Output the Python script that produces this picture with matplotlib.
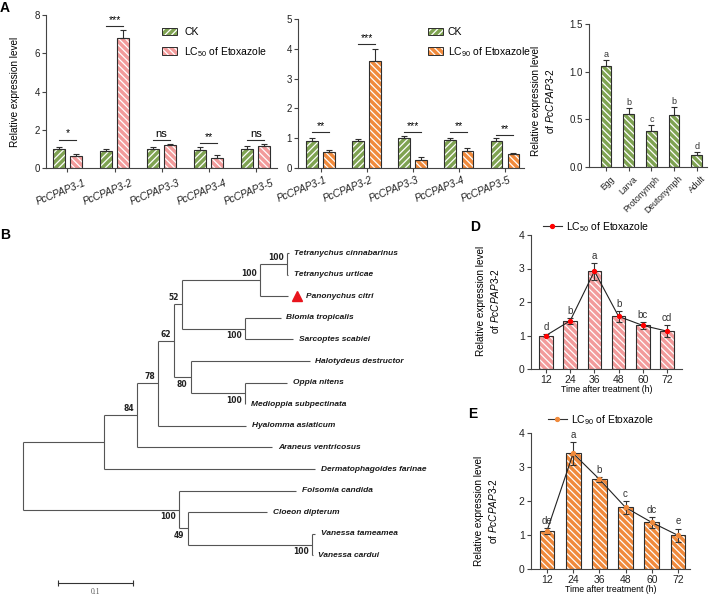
import matplotlib
matplotlib.use('Agg')
import matplotlib.pyplot as plt
import numpy as np
from matplotlib.patches import Patch
from matplotlib.lines import Line2D
from matplotlib.legend_handler import HandlerTuple
from matplotlib.transforms import ScaledTranslation

plt.rcParams['font.family'] = ['Liberation Sans', 'DejaVu Sans']
plt.rcParams['mathtext.fontset'] = 'custom'
plt.rcParams['mathtext.rm'] = 'Liberation Sans'
plt.rcParams['mathtext.it'] = 'Liberation Sans:italic'
plt.rcParams['hatch.linewidth'] = 0.9

# ---------------- data ----------------
genes = ['PcCPAP3-1', 'PcCPAP3-2', 'PcCPAP3-3', 'PcCPAP3-4', 'PcCPAP3-5']
a1_ck = [0.98, 0.89, 1.00, 0.96, 0.98]
a1_ck_err = [0.12, 0.12, 0.08, 0.14, 0.16]
a1_lc50 = [0.61, 6.78, 1.19, 0.54, 1.17]
a1_lc50_err = [0.14, 0.44, 0.09, 0.12, 0.09]
a1_sig = ['*', '***', 'ns', '**', 'ns']
a1_sig_y = [1.49, 7.40, 1.49, 1.31, 1.45]

a2_ck = [0.92, 0.91, 1.02, 0.94, 0.90]
a2_ck_err = [0.09, 0.07, 0.06, 0.08, 0.12]
a2_lc90 = [0.54, 3.58, 0.27, 0.57, 0.47]
a2_lc90_err = [0.08, 0.41, 0.09, 0.10, 0.04]
a2_sig = ['**', '***', '***', '**', '**']
a2_sig_y = [1.20, 4.16, 1.22, 1.22, 1.12]

stages = ['Egg', 'Larva', 'Protonymph', 'Deutonymph', 'Adult']
stage_expr = [1.06, 0.56, 0.38, 0.55, 0.126]
stage_err = [0.06, 0.06, 0.06, 0.08, 0.03]
stage_letters = ['a', 'b', 'c', 'b', 'd']

times = ['12', '24', '36', '48', '60', '72']
d_expr = [1.00, 1.44, 2.92, 1.57, 1.30, 1.13]
d_err = [0.04, 0.09, 0.25, 0.17, 0.10, 0.17]
d_letters = ['d', 'b', 'a', 'b', 'bc', 'cd']
e_expr = [1.12, 3.40, 2.64, 1.81, 1.37, 0.99]
e_err = [0.08, 0.34, 0.07, 0.20, 0.15, 0.20]
e_letters = ['de', 'a', 'b', 'c', 'dc', 'e']

# phylogenetic tree: (name, branch length, bootstrap, children)
tree = ('', 0.0, None, [
    ('', 0.107, None, [
        ('', 0.045, 84, [
            ('', 0.028, 78, [
                ('', 0.021, 62, [
                    ('', 0.011, 52, [
                        ('', 0.103, 100, [
                            ('', 0.037, 100, [
                                ('Tetranychus cinnabarinus', 0.002, None, []),
                                ('Tetranychus urticae', 0.001, None, [])]),
                            ('Panonychus citri', 0.038, None, [])]),
                        ('', 0.084, 100, [
                            ('Blomia tropicalis', 0.047, None, []),
                            ('Sarcoptes scabiei', 0.064, None, [])])]),
                    ('', 0.022, 80, [
                        ('Halotydeus destructor', 0.159, None, []),
                        ('', 0.072, 100, [
                            ('Oppia nitens', 0.057, None, []),
                            ('Medioppia subpectinata', 0.001, None, [])])])]),
                ('Hyalomma asiaticum', 0.117, None, [])]),
            ('Araneus ventricosus', 0.180, None, [])]),
        ('Dermatophagoides farinae', 0.282, None, [])]),
    ('', 0.208, 100, [
        ('Folsomia candida', 0.156, None, []),
        ('', 0.011, 49, [
            ('Cloeon dipterum', 0.106, None, []),
            ('', 0.166, 100, [
                ('Vanessa tameamea', 0.004, None, []),
                ('Vanessa cardui', 0.001, None, [])])])])])
highlight_taxon = 'Panonychus citri'
scale_len = 0.1

# ---------------- styles ----------------
GREEN = '#7fa352'
PINK = '#f29b9b'
ORANGE = '#f08a3c'
EDGE = '#2e2e2e'
AX = '#444444'

W, H = 713, 596
fig = plt.figure(figsize=(W / 100, H / 100), dpi=100)


def px_ax(l, t, r, b):
    return fig.add_axes([l / W, 1 - b / H, (r - l) / W, (b - t) / H])


def fpx(x, y):
    return (x / W, 1 - y / H)


def style_ax(ax, fs=7):
    for s in ['top', 'right']:
        ax.spines[s].set_visible(False)
    for s in ['left', 'bottom']:
        ax.spines[s].set_color(AX)
        ax.spines[s].set_linewidth(0.8)
    ax.tick_params(direction='out', length=3, width=0.8, color=AX,
                   labelsize=fs, pad=1.5, labelcolor='#222222')


def hbar(ax, x, h, w, color, hatch):
    ax.bar(x, h, w, color=color, edgecolor='white', hatch=hatch,
           linewidth=0, zorder=2)
    ax.bar(x, h, w, fill=False, edgecolor=EDGE, linewidth=0.8, zorder=3)


def legend_patch(color, hatch):
    return (Patch(facecolor=color, edgecolor='white', hatch=hatch, linewidth=0),
            Patch(fill=False, edgecolor=EDGE, linewidth=0.7))


def shift_labels(ax, dx_px, dy_px=0):
    for lab in ax.get_xticklabels():
        lab.set_transform(lab.get_transform() +
                          ScaledTranslation(dx_px / 100, dy_px / 100, fig.dpi_scale_trans))


# ---------------- Panel A1 ----------------
ax1 = px_ax(46, 15, 277, 168)
style_ax(ax1)
x = np.arange(len(genes))
off, bw = 0.18, 0.25
hbar(ax1, x - off, a1_ck, bw, GREEN, '/////')
hbar(ax1, x + off, a1_lc50, bw, PINK, '\\\\\\\\\\')
ax1.errorbar(x - off, a1_ck, yerr=[np.zeros(5), a1_ck_err], fmt='none',
             ecolor=EDGE, elinewidth=0.8, capsize=2.5, capthick=0.8, zorder=4)
ax1.errorbar(x + off, a1_lc50, yerr=[np.zeros(5), a1_lc50_err], fmt='none',
             ecolor=EDGE, elinewidth=0.8, capsize=2.5, capthick=0.8, zorder=4)
for i in range(len(genes)):
    ax1.plot([x[i] - off, x[i] + off], [a1_sig_y[i]] * 2, color=EDGE, lw=0.8)
    ax1.text(x[i], a1_sig_y[i] + 0.05, a1_sig[i], ha='center', va='bottom',
             fontsize=8 if a1_sig[i] == 'ns' else 7.5)
ax1.set_xlim(-0.456, 4.45)
ax1.set_ylim(0, 8)
ax1.set_yticks([0, 2, 4, 6, 8])
ax1.set_xticks(x)
ax1.set_xticklabels(genes, rotation=22, ha='right', va='top',
                    rotation_mode='anchor', style='italic', fontsize=7.2)
shift_labels(ax1, 16, -4)
ax1.set_ylabel('Relative expression level', fontsize=7.2)
ax1.yaxis.set_label_coords(-0.113, 0.5)
ax1.legend(handles=[legend_patch(GREEN, '/////'), legend_patch(PINK, '\\\\\\\\\\')],
           labels=['CK', 'LC$_{50}$ of Etoxazole'],
           handler_map={tuple: HandlerTuple(ndivide=1)},
           loc='upper left', bbox_to_anchor=fpx(162, 27), bbox_transform=fig.transFigure,
           frameon=False, fontsize=7.5, handlelength=1.45, handleheight=0.75,
           handletextpad=0.7, labelspacing=0.75, borderpad=0, borderaxespad=0)

# ---------------- Panel A2 ----------------
ax2 = px_ax(298, 19, 524, 168)
style_ax(ax2)
off2, bw2 = 0.185, 0.245
hbar(ax2, x - off2, a2_ck, bw2, GREEN, '/////')
hbar(ax2, x + off2, a2_lc90, bw2, ORANGE, '\\\\\\\\\\')
ax2.errorbar(x - off2, a2_ck, yerr=[np.zeros(5), a2_ck_err], fmt='none',
             ecolor=EDGE, elinewidth=0.8, capsize=2.5, capthick=0.8, zorder=4)
ax2.errorbar(x + off2, a2_lc90, yerr=[np.zeros(5), a2_lc90_err], fmt='none',
             ecolor=EDGE, elinewidth=0.8, capsize=2.5, capthick=0.8, zorder=4)
for i in range(len(genes)):
    ax2.plot([x[i] - off2, x[i] + off2], [a2_sig_y[i]] * 2, color=EDGE, lw=0.8)
    ax2.text(x[i], a2_sig_y[i] + 0.03, a2_sig[i], ha='center', va='bottom', fontsize=7.5)
ax2.set_xlim(-0.49, 4.42)
ax2.set_ylim(0, 5)
ax2.set_yticks([0, 1, 2, 3, 4, 5])
ax2.set_xticks(x)
ax2.set_xticklabels(genes, rotation=22, ha='right', va='top',
                    rotation_mode='anchor', style='italic', fontsize=7.2)
shift_labels(ax2, 4, -1)
ax2.legend(handles=[legend_patch(GREEN, '/////'), legend_patch(ORANGE, '\\\\\\\\\\')],
           labels=['CK', 'LC$_{90}$ of Etoxazole'],
           handler_map={tuple: HandlerTuple(ndivide=1)},
           loc='upper left', bbox_to_anchor=fpx(428, 27), bbox_transform=fig.transFigure,
           frameon=False, fontsize=7.5, handlelength=1.45, handleheight=0.75,
           handletextpad=0.45, labelspacing=0.75, borderpad=0, borderaxespad=0)

# ---------------- Panel A3 ----------------
ax3 = px_ax(589, 24, 707, 167)
style_ax(ax3)
xs = np.arange(len(stages))
hbar(ax3, xs, stage_expr, 0.47, GREEN, '\\\\\\\\\\')
ax3.errorbar(xs, stage_expr, yerr=[np.zeros(5), stage_err], fmt='none',
             ecolor=EDGE, elinewidth=0.8, capsize=2.5, capthick=0.8, zorder=4)
for i in range(len(stages)):
    ax3.annotate(stage_letters[i], (xs[i], stage_expr[i] + stage_err[i]),
                 xytext=(0, 1), textcoords='offset points',
                 ha='center', va='bottom', fontsize=6.5, color='#333333')
ax3.set_xlim(-0.75, 4.45)
ax3.set_ylim(0, 1.5)
ax3.set_yticks([0, 0.5, 1.0, 1.5])
ax3.set_yticklabels(['0.0', '0.5', '1.0', '1.5'])
ax3.set_xticks(xs)
ax3.set_xticklabels(stages, rotation=45, ha='right', va='top',
                    rotation_mode='anchor', fontsize=6.2)
shift_labels(ax3, 4, -1)
ax3.set_ylabel('Relative expression level\nof $\\mathit{PcCPAP3}$-2', fontsize=7.2,
               linespacing=1.3)
ax3.yaxis.set_label_coords(-0.28, 0.46)


# ---------------- Panels D / E ----------------
def time_panel(ax, vals, errs, letters, color, xlim, lab, leg_xy, lab_coords, xlab_y):
    style_ax(ax, fs=7.5)
    xt = np.arange(len(times))
    hbar(ax, xt, vals, 0.56, color, '\\\\\\\\\\')
    ax.plot(xt, vals, color='#222222', lw=0.8, zorder=5)
    ax.errorbar(xt, vals, yerr=errs, fmt='none', ecolor='#333333',
                elinewidth=0.8, capsize=2, capthick=0.8, zorder=6)
    mk = 'red' if color == PINK else ORANGE
    ax.plot(xt, vals, 'o', color=mk, ms=2.8, zorder=7)
    for i in range(len(times)):
        ax.annotate(letters[i], (xt[i], vals[i] + errs[i]), xytext=(0, 1.5),
                    textcoords='offset points', ha='center', va='bottom',
                    fontsize=7, color='#333333')
    ax.set_xlim(*xlim)
    ax.set_ylim(0, 4)
    ax.set_yticks([0, 1, 2, 3, 4])
    ax.set_xticks(xt)
    ax.set_xticklabels(times)
    ax.set_xlabel('Time after treatment (h)', fontsize=6.3)
    ax.xaxis.set_label_coords(0.5, xlab_y)
    ax.set_ylabel('Relative expression level\nof $\\mathit{PcCPAP3}$-2', fontsize=7.2,
                  linespacing=1.3)
    ax.yaxis.set_label_coords(*lab_coords)
    h = Line2D([], [], color='#333333', lw=0.8, marker='o', ms=2.8,
               mfc=mk, mec=mk)
    ax.legend(handles=[h], labels=[lab], loc='center left',
              bbox_to_anchor=fpx(*leg_xy), bbox_transform=fig.transFigure,
              frameon=False, fontsize=7.5, handlelength=1.8, handletextpad=0.4,
              borderpad=0, borderaxespad=0)


axD = px_ax(531, 235, 682, 369)
time_panel(axD, d_expr, d_err, d_letters, PINK, (-0.62, 5.62),
           'LC$_{50}$ of Etoxazole', (543, 227), (-0.2, 0.51), -0.12)
axE = px_ax(531, 433, 690, 569)
time_panel(axE, e_expr, e_err, e_letters, ORANGE, (-0.61, 5.46),
           'LC$_{90}$ of Etoxazole', (548, 420), (-0.2, 0.43), -0.115)

# ---------------- Panel B (tree) ----------------
axT = px_ax(0, 240, 480, 596)
axT.axis('off')
axT.set_xlim(-23.3 / 750, (480 - 23.3) / 750)
y0, dy = 253.0, 21.6
axT.set_ylim((596 - y0) / dy, (240 - y0) / dy)

tips = []


def layout(node, x0):
    name, bl, sup, ch = node
    xn = x0 + bl
    if not ch:
        yn = float(len(tips))
        tips.append(name)
        return {'name': name, 'x': xn, 'y': yn, 'sup': sup, 'ch': []}
    kids = [layout(c, xn) for c in ch]
    yn = (kids[0]['y'] + kids[-1]['y']) / 2
    return {'name': name, 'x': xn, 'y': yn, 'sup': sup, 'ch': kids}


root = layout(tree, 0.0)
LC = '#555555'


def draw(n, is_first=True):
    if n['ch']:
        axT.plot([n['x'], n['x']], [n['ch'][0]['y'], n['ch'][-1]['y']],
                 color=LC, lw=0.8, solid_capstyle='butt')
        for k, c in enumerate(n['ch']):
            axT.plot([n['x'], c['x']], [c['y'], c['y']], color=LC, lw=0.8,
                     solid_capstyle='butt')
            draw(c, k == 0)
        if n['sup'] is not None:
            dyp = 4.6 if is_first else -5.0
            axT.annotate(str(n['sup']), (n['x'], n['y']), xytext=(-2.2, dyp),
                         textcoords='offset points', ha='right', va='center',
                         fontsize=5.5, fontweight='bold', family='DejaVu Sans',
                         color='#222222')
    else:
        if n['name'] == highlight_taxon:
            axT.plot([n['x']], [n['y']], marker='^', color='#e8141c', ms=6.5,
                     transform=axT.transData + ScaledTranslation(6.5 / 72, 0, fig.dpi_scale_trans))
            xo = 13
        else:
            xo = 4
        axT.annotate(n['name'], (n['x'], n['y']), xytext=(xo, 0),
                     textcoords='offset points', ha='left', va='center',
                     fontsize=6, fontweight='bold', style='italic', color='#1a1a1a')


draw(root)

# scale bar
sb_x0 = (58 - 23.3) / 750
sb_y = (583 - y0) / dy
axT.plot([sb_x0, sb_x0 + scale_len], [sb_y, sb_y], color='#333333', lw=0.8)
axT.plot([sb_x0, sb_x0 + scale_len], [sb_y, sb_y], '|', color='#333333', ms=5, mew=0.8)
axT.text(sb_x0 + scale_len / 2, sb_y + 0.42, f'{scale_len:g}', ha='center', va='center',
         fontsize=5.5, family='Liberation Serif', color='#555555')

# panel labels
for lab, (px, py) in {'A': (5, 8), 'B': (5, 235), 'D': (475, 227), 'E': (473, 414)}.items():
    fig.text(*fpx(px, py), lab, fontsize=10, fontweight='bold', ha='center', va='center')

fig.savefig('out.png', dpi=100)
